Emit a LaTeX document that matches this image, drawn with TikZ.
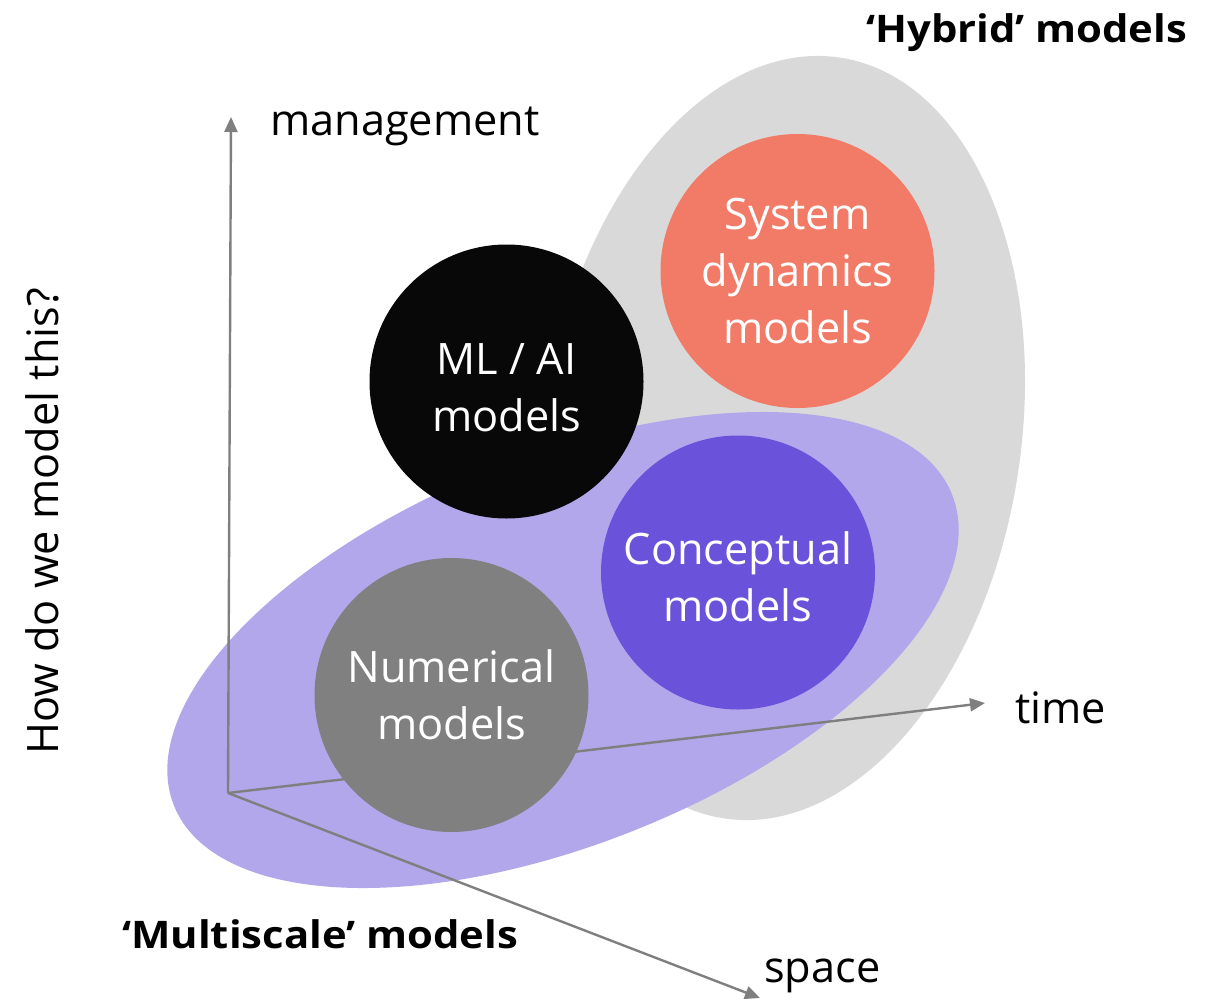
\documentclass[tikz,border=0pt]{standalone}
\usepackage{fontspec}
\setmainfont{Open Sans}[BoldFeatures={FakeStretch=1.1}]
\usetikzlibrary{arrows.meta,shapes.geometric}
\definecolor{hybridgray}{HTML}{D9D9D9}
\definecolor{multipurple}{HTML}{B3A7EB}
\definecolor{sysred}{HTML}{F27B67}
\definecolor{mlblack}{HTML}{080808}
\definecolor{concpurple}{HTML}{6B52DB}
\definecolor{numgray}{HTML}{808080}
\definecolor{axisgray}{HTML}{7F7F7F}
\tikzset{
  modelcircle/.style={circle, minimum size=274pt, inner sep=0pt, text=white, align=center,
    font=\fontsize{43.3}{57}\selectfont},
  axisline/.style={draw=axisgray, line width=2.4pt, -{Triangle[length=15pt,width=13pt]}},
  axislabel/.style={anchor=base west, inner sep=0pt, font=\fontsize{43.3}{50}\selectfont},
  grouplabel/.style={anchor=base west, inner sep=0pt, font=\fontsize{38}{46}\selectfont\bfseries}
}
\begin{document}
\begin{tikzpicture}[x=1pt,y=-1pt]
\useasboundingbox (0,0) rectangle (1216,1001);
% group ellipses
\fill[hybridgray, rotate around={-8.75:(782,438)}] (782,438) ellipse [x radius=238.6pt, y radius=384.8pt];
\fill[multipurple, rotate around={21.8:(563,650)}] (563,650) ellipse [x radius=419pt, y radius=194pt];
% axes
\coordinate (O) at (228,793);
\coordinate (M) at (231,117);
\coordinate (T) at (985,703);
\coordinate (S) at (760,998);
\draw[axisline] (O) -- (M);
\draw[axisline] (O) -- (T);
\draw[axisline] (O) -- (S);
% model circles
\node[modelcircle, fill=sysred] (sd) at (797.5,271) {System\\dynamics\\models};
\node[modelcircle, fill=mlblack] (ml) at (506.5,381.5) {};
\node[text=white, align=center, font=\fontsize{43.3}{57}\selectfont] (mlt) at (506.5,388) {ML / AI\\models};
\node[modelcircle, fill=concpurple] (cm) at (738,572.5) {};
\node[text=white, align=center, font=\fontsize{43.3}{57}\selectfont] (cmt) at (738,577) {Conceptual\\models};
\node[modelcircle, fill=numgray] (nm) at (451.5,695) {Numerical\\models};
% labels
\node[axislabel] (lm) at (270,135) {management};
\node[axislabel] (lt) at (1015,723) {time};
\node[axislabel] (ls) at (764,982) {space};
\node[axislabel, rotate=90] (lq) at (58,755) {How do we model this?};
\node[grouplabel] (lh) at (866,42) {‘Hybrid’ models};
\node[grouplabel] (lms) at (122,948) {‘Multiscale’ models};
\end{tikzpicture}
\end{document}
